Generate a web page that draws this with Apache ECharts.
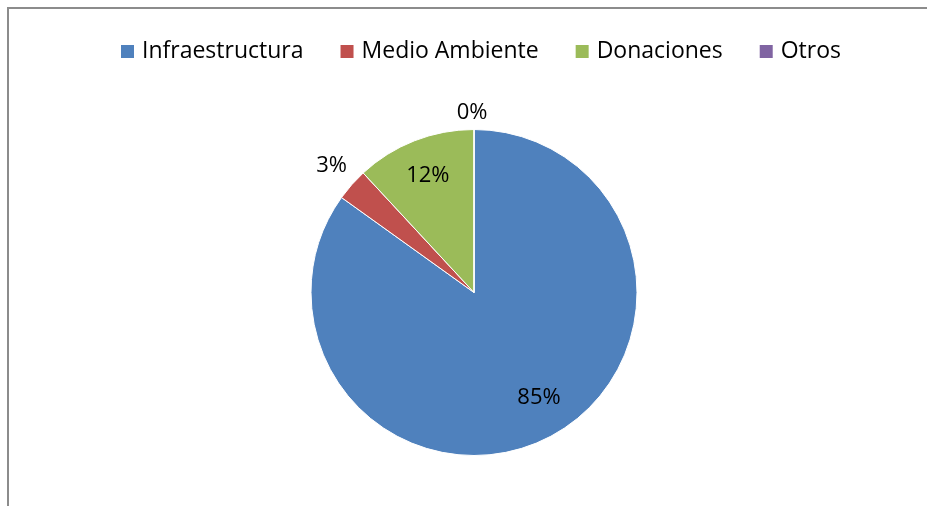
<!DOCTYPE html>
<html><head><meta charset="utf-8">
<script src="https://cdn.jsdelivr.net/npm/echarts@6/dist/echarts.min.js"></script>
<style>html,body{margin:0;padding:0;background:#fff}#c{width:927px;height:506px}</style>
</head><body><div id="c"></div>
<script>
var categories = ['Infraestructura', 'Medio Ambiente', 'Donaciones', 'Otros'];
var values = [84.9, 3.2, 11.9, 0];
var colors = ['#4F81BD', '#C0504D', '#9BBB59', '#8064A2'];
// label placement: radius factor and angular nudge (degrees)
var labelRadiusFactor = [0.755, 1.175, 0.775, 1.11];
var labelAngleNudge = [-4.7, 0.6, 0, -0.6];

var CX = 474, CY = 292.5, R = 163;
var total = values.reduce(function(a, b){ return a + b; }, 0);
var midAngles = [];
(function(){ var acc = 0; for (var i = 0; i < values.length; i++) { midAngles.push((acc + values[i] / 2) / total * 2 * Math.PI); acc += values[i]; } })();

var chart = echarts.init(document.getElementById('c'));
chart.setOption({
  animation: false,
  graphic: [{ type: 'rect', shape: { x: 8, y: 8, width: 1000, height: 1000 }, style: { fill: 'none', stroke: '#8c8c8c', lineWidth: 2 }, silent: true }],
  legend: {
    top: 40, left: 119, padding: 0, itemWidth: 15, itemHeight: 15, itemGap: 35, icon: 'rect',
    textStyle: { fontFamily: 'Open Sans', fontSize: 23, color: '#000', padding: [0, 0, 0, 2] },
    data: categories
  },
  series: [{
    type: 'pie',
    center: [CX, CY], radius: R,
    startAngle: 90, clockwise: true,
    stillShowZeroSum: true,
    itemStyle: { borderColor: '#fff', borderWidth: 1 },
    label: { show: true, position: 'inside', color: '#000', fontFamily: 'Open Sans', fontSize: 22,
      formatter: function(p){ return Math.round(p.value / total * 100) + '%'; } },
    labelLine: { show: false },
    labelLayout: function(p){
      var i = p.dataIndex, a = midAngles[i] + labelAngleNudge[i] * Math.PI / 180, k = labelRadiusFactor[i];
      return { x: CX + k * R * Math.sin(a), y: CY + 1 - k * R * Math.cos(a), align: 'center', verticalAlign: 'middle' };
    },
    emphasis: { disabled: true },
    data: categories.map(function(n, i){ return { name: n, value: values[i], itemStyle: { color: colors[i] } }; })
  }]
});
</script></body></html>
